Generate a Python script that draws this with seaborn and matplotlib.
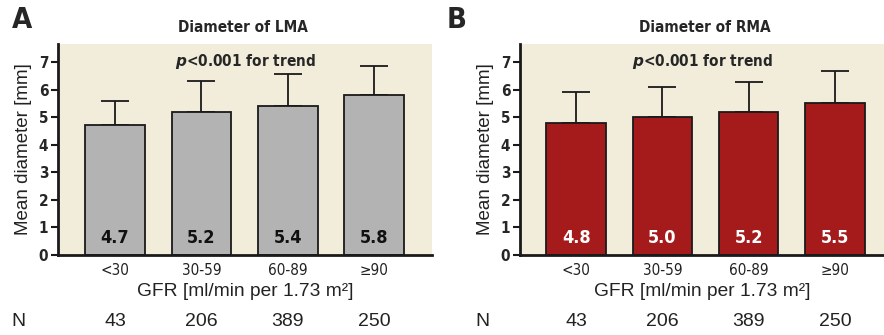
import matplotlib
matplotlib.use("Agg")
import matplotlib.pyplot as plt
import matplotlib.transforms as mtransforms
import seaborn as sns
import numpy as np
import pandas as pd

categories = ["<30", "30-59", "60-89", "≥90"]
lma_mean = [4.7, 5.2, 5.4, 5.8]
lma_upper = [5.6, 6.3, 6.58, 6.85]
rma_mean = [4.8, 5.0, 5.2, 5.5]
rma_upper = [5.9, 6.08, 6.28, 6.67]
n_counts = [43, 206, 389, 250]
yticks = [0, 1, 2, 3, 4, 5, 6, 7]

sns.set_theme(style="white")
plt.rcParams["font.family"] = ["Liberation Sans", "DejaVu Sans"]

BG = "#f2eddb"
COND = dict(family=["DejaVu Sans"], stretch="condensed")
REG = dict(family=["Liberation Sans", "DejaVu Sans"])

fig = plt.figure(figsize=(8.84, 3.35), dpi=100)
W, H = 884, 335

def make_ax(left, right, top, bottom):
    return fig.add_axes([left / W, 1 - bottom / H, (right - left) / W, (bottom - top) / H])

axA = make_ax(58, 432, 44, 255)
axB = make_ax(520, 884, 44, 255)

panels = [
    (axA, lma_mean, lma_upper, "#b3b3b3", "#111111", "A", "Diameter of LMA", (-0.66, 3.67), 18, 243),
    (axB, rma_mean, rma_upper, "#a51b1b", "white", "B", "Diameter of RMA", (-0.65, 3.57), 482, 705),
]

for ax, means, upper, color, txtcol, letter, title, xlim, nx, tx in panels:
    df = pd.DataFrame({"GFR": categories, "mean": means})
    sns.barplot(data=df, x="GFR", y="mean", ax=ax, color=color, width=0.69,
                edgecolor="#1a1a1a", linewidth=1.3, saturation=1)
    x = np.arange(len(categories))
    err = np.array(upper) - np.array(means)
    ax.errorbar(x, means, yerr=[np.zeros_like(err), err], fmt="none",
                ecolor="#1a1a1a", elinewidth=1.3, capsize=10, capthick=1.3, zorder=0.5)
    ax.set_facecolor(BG)
    ax.set_xlim(*xlim)
    ax.set_ylim(0, 7.65)
    ax.set_yticks(yticks)
    ax.set_yticklabels([str(t) for t in yticks], fontsize=11, fontweight="bold", **COND)
    ax.set_xticks(x)
    ax.set_xticklabels(categories, fontsize=11, color="#222222", **COND)
    ax.tick_params(axis="y", length=5, width=1.5, color="#1a1a1a", direction="out", pad=2, left=True)
    ax.tick_params(axis="x", length=0, pad=6)
    for s in ["top", "right"]:
        ax.spines[s].set_visible(False)
    for s in ["left", "bottom"]:
        ax.spines[s].set_visible(True)
        ax.spines[s].set_color("#1a1a1a")
        ax.spines[s].set_linewidth(2)
    ax.set_xlabel("GFR [ml/min per 1.73 m²]", fontsize=13.8, color="#222222", labelpad=3, **REG)
    ax.set_ylabel("Mean diameter [mm]", fontsize=13.5, color="#222222", labelpad=5, **REG)
    for xi, m in zip(x, means):
        ax.text(xi, 0.62, f"{m:.1f}", ha="center", va="center", fontsize=13,
                fontweight="bold", color=txtcol, **COND)
    ax.text(0.5, 0.915, r"$\bfit{p}$<0.001 for trend", transform=ax.transAxes,
            ha="center", va="center", fontsize=11, fontweight="bold", **COND)
    fig.text(tx / W, 1 - 27 / H, title, ha="center", va="center", fontsize=11,
             fontweight="bold", **COND)
    trans = mtransforms.blended_transform_factory(ax.transData, fig.transFigure)
    for xi, n in zip(x, n_counts):
        ax.text(xi, 1 - 321 / H, str(n), transform=trans, ha="center", va="center",
                fontsize=14, color="#222222", **REG)
    fig.text(nx / W, 1 - 321 / H, "N", ha="center", va="center", fontsize=14,
             color="#222222", **REG)
    fig.text((12 if letter == "A" else 447) / W, 1 - 20 / H, letter, ha="left", va="center",
             fontsize=21, fontweight="bold", **COND)

fig.savefig("out.png", dpi=100, facecolor="white")
